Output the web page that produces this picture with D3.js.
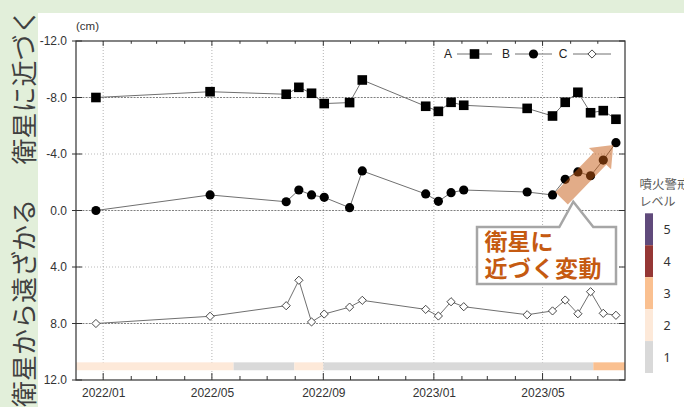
<!DOCTYPE html>
<html><head><meta charset="utf-8">
<script src="https://cdn.jsdelivr.net/npm/d3@7"></script>
<style>body{margin:0;background:#fff} svg{display:block}</style>
</head><body><svg id="c" width="684" height="407"></svg>
<script>
// ---- data ----
const dates = ["2021-12-24","2022-04-29","2022-07-22","2022-08-05","2022-08-19","2022-09-02","2022-09-30","2022-10-14","2022-12-23","2023-01-06","2023-01-20","2023-02-03","2023-04-14","2023-05-12","2023-05-26","2023-06-09","2023-06-23","2023-07-07","2023-07-21"];
const seriesA = [-8.0,-8.41,-8.23,-8.72,-8.30,-7.57,-7.64,-9.24,-7.38,-7.02,-7.66,-7.45,-7.23,-6.69,-7.66,-8.37,-6.92,-7.07,-6.46];
const seriesB = [0.0,-1.10,-0.62,-1.45,-1.10,-0.93,-0.20,-2.80,-1.17,-0.65,-1.26,-1.45,-1.31,-1.10,-2.21,-2.73,-2.46,-3.57,-4.80];
const seriesC = [8.0,7.49,6.74,4.94,7.89,7.33,6.84,6.36,7.00,7.47,6.46,6.81,7.38,7.11,6.34,7.31,5.75,7.28,7.42];
const seriesNames = ["A","B","C"];
const yTicks = [-12,-8,-4,0,4,8,12];
const xLabelDates = ["2022-01-01","2022-05-01","2022-09-01","2023-01-01","2023-05-01"];
const levelStart = ["2021-12-02","2022-05-25","2022-07-31","2022-09-01","2023-06-26"];
const levelEnd   = ["2022-05-25","2022-07-31","2022-09-01","2023-06-26","2023-07-31"];
const levelValue = [2,1,2,1,3];
const legendLevels = [5,4,3,2,1];
const levelColors = {1:"#d9d9d9",2:"#fde9d9",3:"#fac090",4:"#953735",5:"#604a7b"};
const arrowFrom = {date:"2023-05-22", v:-0.86};
const arrowTo = {date:"2023-07-18", v:-4.64};

// ---- setup ----
const P = d3.timeParse("%Y-%m-%d");
const svg = d3.select("#c");
const L = 76, R = 625, T = 41, B = 380;
const x = d3.scaleTime().domain([P("2021-12-02"), P("2023-07-31")]).range([L, R]);
const y = d3.scaleLinear().domain([-12, 12]).range([T, B]);
const FONT = "'Liberation Sans', Arial, sans-serif";
const JP = "'Noto Sans CJK JP', sans-serif";

// backgrounds
svg.append("rect").attr("width",684).attr("height",407).attr("fill","#e2efda");
svg.append("rect").attr("x",38).attr("y",13).attr("width",646).attr("height",394).attr("fill","#fff");

// left vertical captions
svg.append("text").attr("transform","translate(22.5,86.5) rotate(-90)")
  .attr("text-anchor","middle").attr("dominant-baseline","central")
  .attr("font-family",JP).attr("font-size",26).attr("fill","#404040").text("衛星に近づく");
svg.append("text").attr("transform","translate(22.5,303) rotate(-90)")
  .attr("text-anchor","middle").attr("dominant-baseline","central")
  .attr("font-family",JP).attr("font-size",26).attr("fill","#404040").text("衛星から遠ざかる");

// grid
const g = svg.append("g");
xLabelDates.forEach(d => {
  g.append("line").attr("x1",x(P(d))).attr("x2",x(P(d))).attr("y1",T).attr("y2",B)
   .attr("stroke","#a0a0a0").attr("stroke-width",0.8).attr("stroke-dasharray","1,2");
});
yTicks.filter(v => v > -12 && v < 12).forEach(v => {
  const strong = (v % 8 === 0);
  g.append("line").attr("x1",L).attr("x2",R).attr("y1",y(v)).attr("y2",y(v))
   .attr("stroke", strong ? "#808080" : "#a8a8a8")
   .attr("stroke-width", strong ? 1.1 : 0.8)
   .attr("stroke-dasharray", strong ? "2,1.2" : "1,2");
});

// level bar
levelValue.forEach((lv,i) => {
  svg.append("rect").attr("x",x(P(levelStart[i]))).attr("width",x(P(levelEnd[i]))-x(P(levelStart[i])))
    .attr("y",y(10.75)).attr("height",y(11.31)-y(10.75)).attr("fill",levelColors[lv]);
});

// ticks
const months = d3.timeMonth.range(x.domain()[0], x.domain()[1]);
const majorSet = new Set(xLabelDates.map(d => +P(d)));
months.forEach(m => {
  const len = majorSet.has(+m) ? 7 : 4;
  svg.append("line").attr("x1",x(m)).attr("x2",x(m)).attr("y1",B).attr("y2",B-len).attr("stroke","#333");
  svg.append("line").attr("x1",x(m)).attr("x2",x(m)).attr("y1",T).attr("y2",T+len*0.7).attr("stroke","#333");
});
yTicks.forEach(v => {
  svg.append("line").attr("x1",L-4).attr("x2",L+6).attr("y1",y(v)).attr("y2",y(v)).attr("stroke","#333");
  svg.append("line").attr("x1",R-6).attr("x2",R).attr("y1",y(v)).attr("y2",y(v)).attr("stroke","#333");
});

// axes labels
const ya = svg.append("g").attr("transform",`translate(${L},0)`)
  .call(d3.axisLeft(y).tickValues(yTicks).tickSize(0).tickPadding(9).tickFormat(d => d.toFixed(1)));
ya.select(".domain").remove();
ya.selectAll("text").attr("font-family",FONT).attr("font-size",12).attr("fill","#333");
const xa = svg.append("g").attr("transform",`translate(0,${B})`)
  .call(d3.axisBottom(x).tickValues(xLabelDates.map(P)).tickSize(0).tickPadding(8).tickFormat(d3.timeFormat("%Y/%m")));
xa.select(".domain").remove();
xa.selectAll("text").attr("font-family",FONT).attr("font-size",12).attr("fill","#333");
svg.append("text").attr("x",L).attr("y",30).attr("font-family",FONT).attr("font-size",11.5).attr("fill","#333").text("(cm)");

// frame
svg.append("rect").attr("x",L).attr("y",T).attr("width",R-L).attr("height",B-T)
  .attr("fill","none").attr("stroke","#333").attr("stroke-width",1.2);

// series
const line = d3.line().x((d,i) => x(P(dates[i]))).y(d => y(d));
[seriesA, seriesB, seriesC].forEach(s => {
  svg.append("path").attr("d", line(s)).attr("fill","none").attr("stroke","#707070").attr("stroke-width",1);
});
const diamond = h => `M0,${-h}L${h},0L0,${h}L${-h},0Z`;
function sq(sel, cx, cy){ sel.append("rect").attr("x",cx-4.8).attr("y",cy-4.8).attr("width",9.6).attr("height",9.6).attr("fill","#000"); }
function ci(sel, cx, cy){ sel.append("circle").attr("cx",cx).attr("cy",cy).attr("r",4.6).attr("fill","#000"); }
function di(sel, cx, cy){ sel.append("path").attr("d",diamond(4.1)).attr("transform",`translate(${cx},${cy})`).attr("fill","#fff").attr("stroke","#333").attr("stroke-width",0.9); }
seriesA.forEach((v,i) => sq(svg, x(P(dates[i])), y(v)));
seriesB.forEach((v,i) => ci(svg, x(P(dates[i])), y(v)));
seriesC.forEach((v,i) => di(svg, x(P(dates[i])), y(v)));

// legend
const legX = [448, 506, 563], legLine = [[457,492],[515,552],[573,611]], legY = 54;
const mk = [sq, ci, di];
seriesNames.forEach((n,i) => {
  svg.append("text").attr("x",legX[i]).attr("y",legY).attr("text-anchor","middle").attr("dominant-baseline","central")
    .attr("font-family",FONT).attr("font-size",12).attr("fill","#222").text(n);
  svg.append("line").attr("x1",legLine[i][0]).attr("x2",legLine[i][1]).attr("y1",legY).attr("y2",legY).attr("stroke","#707070");
  mk[i](svg, (legLine[i][0]+legLine[i][1])/2, legY);
});

// arrow
{
  const x0 = x(P(arrowFrom.date)), y0 = y(arrowFrom.v), x1 = x(P(arrowTo.date)), y1 = y(arrowTo.v);
  const len = Math.hypot(x1-x0, y1-y0), ux = (x1-x0)/len, uy = (y1-y0)/len, nx = -uy, ny = ux;
  const sw = 8.7, hw = 15.4, hl = 19, sl = len - hl;
  const pts = [
    [x0 - sw*nx, y0 - sw*ny], [x0 + sw*nx, y0 + sw*ny],
    [x0 + sl*ux + sw*nx, y0 + sl*uy + sw*ny], [x0 + sl*ux + hw*nx, y0 + sl*uy + hw*ny],
    [x1, y1],
    [x0 + sl*ux - hw*nx, y0 + sl*uy - hw*ny], [x0 + sl*ux - sw*nx, y0 + sl*uy - sw*ny]
  ];
  svg.append("path").attr("d","M"+pts.map(p=>p.join(",")).join("L")+"Z").attr("fill","#c55a11").attr("fill-opacity",0.5);
}

// callout
svg.append("path").attr("d","M477,227L559.3,227L573.3,201.7L593.3,227L616,227L616,284L477,284Z")
  .attr("fill","#fff").attr("stroke","#a6a6a6").attr("stroke-width",2.5).attr("stroke-linejoin","miter");
const ct = svg.append("text").attr("font-family",JP).attr("font-weight","bold").attr("font-size",23).attr("fill","#c55a11");
ct.append("tspan").attr("x",484.5).attr("y",250).text("衛星に");
ct.append("tspan").attr("x",484.5).attr("y",277).attr("letter-spacing",0.5).text("近づく変動");

// level legend
const lt = svg.append("text").attr("font-family",JP).attr("fill","#595959");
lt.append("tspan").attr("x",639.5).attr("y",189).attr("font-size",12.5).text("噴火警戒");
lt.append("tspan").attr("x",639.5).attr("y",206).attr("font-size",12).text("レベル");
const lb = d3.scaleBand().domain(legendLevels).range([213.3, 373]);
legendLevels.forEach(lv => {
  svg.append("rect").attr("x",645).attr("y",lb(lv)).attr("width",8).attr("height",lb.bandwidth()).attr("fill",levelColors[lv]);
  svg.append("text").attr("x",667).attr("y",lb(lv)+lb.bandwidth()/2).attr("text-anchor","middle").attr("dominant-baseline","central")
    .attr("font-family","'Noto Sans', sans-serif").attr("font-size",12.5).attr("fill","#333").text(lv);
});
</script></body></html>
